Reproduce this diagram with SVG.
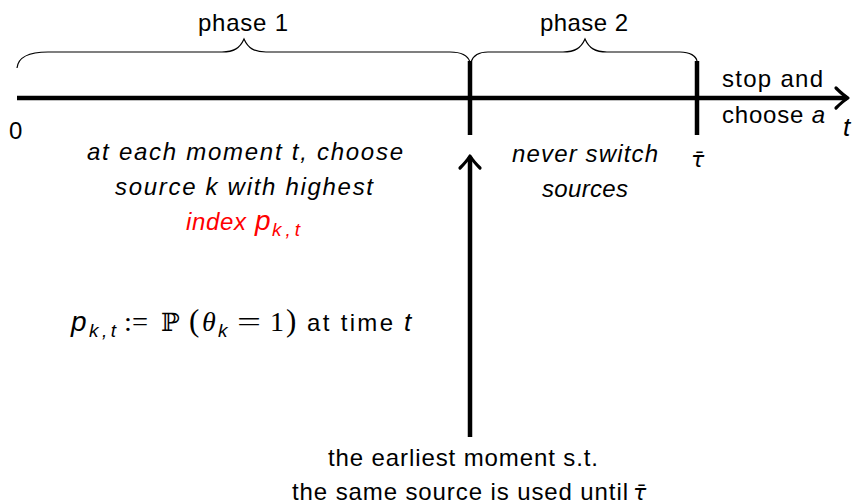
<svg xmlns="http://www.w3.org/2000/svg" width="856" height="504" viewBox="0 0 856 504">
  <style>
    text { font-family: "Liberation Sans", "DejaVu Sans", sans-serif; font-size: 24px; fill: #000; }
    .it { font-style: italic; }
    .big { font-size: 28px; font-style: italic; }
    .sub { font-size: 19px; font-style: italic; }
    .red { fill: #ff0000; }
    .math { font-family: "Liberation Serif", "DejaVu Serif", serif; font-size: 28px; }
    .paren { font-family: "Liberation Serif", "DejaVu Serif", serif; font-size: 31px; }
    .bb { font-family: "DejaVu Serif", "DejaVu Sans", serif; font-size: 25px; }
    .brace { fill: none; stroke: #000; stroke-width: 1.2; }
    .thick { stroke: #000; stroke-width: 4.5; fill: none; }
    .head { fill: none; stroke: #000; stroke-width: 3.2; stroke-linecap: round; stroke-linejoin: round; }
  </style>
  <defs>
    <marker id="tip" markerUnits="userSpaceOnUse" markerWidth="30" markerHeight="30" refX="0" refY="0" viewBox="-15 -15 30 30" orient="auto" overflow="visible">
      <path class="head" d="M -11 -10 Q -4 -3 1 0 Q -4 3 -11 10"/>
    </marker>
  </defs>

  <!-- connectors: time axis, ticks and pointer -->
  <g id="connectors">
    <line class="thick" x1="17" y1="98" x2="847" y2="98" marker-end="url(#tip)"/>
    <line class="thick" x1="470" y1="61" x2="470" y2="135"/>
    <line class="thick" x1="697" y1="61" x2="697" y2="135"/>
    <line class="thick" x1="470" y1="437" x2="470" y2="157" stroke-width="4" marker-end="url(#tip)"/>
  </g>

  <!-- phase 1 brace and label -->
  <g id="phase1">
    <path class="brace" d="M17,68 C18,58 28,52 48,52 L222,52 C234,52 240,48 244,39 C248,48 254,52 266,52 L450,52 C462,52 468,56 470,62"/>
    <text x="243" y="31" text-anchor="middle" textLength="90" lengthAdjust="spacing">phase 1</text>
  </g>

  <!-- phase 2 brace and label -->
  <g id="phase2">
    <path class="brace" d="M471,62 C473,56 478,52 488,52 L563,52 C575,52 581,48 585,39 C589,48 595,52 607,52 L680,52 C690,52 696,56 697,61"/>
    <text x="584" y="31" text-anchor="middle" textLength="88" lengthAdjust="spacing">phase 2</text>
  </g>

  <!-- axis labels -->
  <g id="axis-labels">
    <text x="9" y="139">0</text>
    <text class="it" x="843" y="136" style="font-size:26px">t</text>
    <text class="it" x="691" y="167" style="font-family:'DejaVu Sans',sans-serif;font-size:22px">τ̄</text>
  </g>

  <!-- stop label -->
  <g id="stop">
    <text x="722" y="87" textLength="101" lengthAdjust="spacing">stop and</text>
    <text x="722" y="123" textLength="103" lengthAdjust="spacing">choose <tspan class="it">a</tspan></text>
  </g>

  <!-- phase 1 rule -->
  <g id="rule1">
    <text class="it" x="245" y="160" text-anchor="middle" textLength="316" lengthAdjust="spacing">at each moment t, choose</text>
    <text class="it" x="244" y="195" text-anchor="middle" textLength="258" lengthAdjust="spacing">source k with highest</text>
    <text class="it red" x="186" y="230" textLength="60" lengthAdjust="spacing">index</text>
    <text class="big red" x="255" y="230">p</text>
    <text class="sub red" x="272" y="236" textLength="28" lengthAdjust="spacing">k,t</text>
  </g>

  <!-- phase 2 rule -->
  <g id="rule2">
    <text class="it" x="585" y="162" text-anchor="middle" textLength="146" lengthAdjust="spacing">never switch</text>
    <text class="it" x="585" y="197" text-anchor="middle" textLength="86" lengthAdjust="spacing">sources</text>
  </g>

  <!-- index definition -->
  <g id="definition">
    <text class="big" x="71" y="331">p</text>
    <text class="sub" x="89" y="337" textLength="27" lengthAdjust="spacing">k,t</text>
    <text class="math" x="124" y="331" textLength="24" lengthAdjust="spacingAndGlyphs">:=</text>
    <text class="bb" x="161" y="331">ℙ</text>
    <text class="paren" x="189" y="331">(</text>
    <text class="math it" x="202" y="331">θ</text>
    <text class="sub" x="218" y="337">k</text>
    <text class="math" x="237" y="331" textLength="24" lengthAdjust="spacingAndGlyphs">=</text>
    <text class="math" x="270" y="331">1</text>
    <text class="paren" x="286" y="331">)</text>
    <text x="307" y="331" textLength="86" lengthAdjust="spacing">at time</text>
    <text class="it" x="404" y="331" style="font-size:26px">t</text>
  </g>

  <!-- switching moment -->
  <g id="moment">
    <text x="463" y="466" text-anchor="middle" textLength="270" lengthAdjust="spacing">the earliest moment s.t.</text>
    <text x="292" y="500" textLength="336" lengthAdjust="spacing">the same source is used until</text>
    <text class="it" x="633" y="500" style="font-family:'DejaVu Sans',sans-serif;font-size:22px">τ̄</text>
  </g>
</svg>
